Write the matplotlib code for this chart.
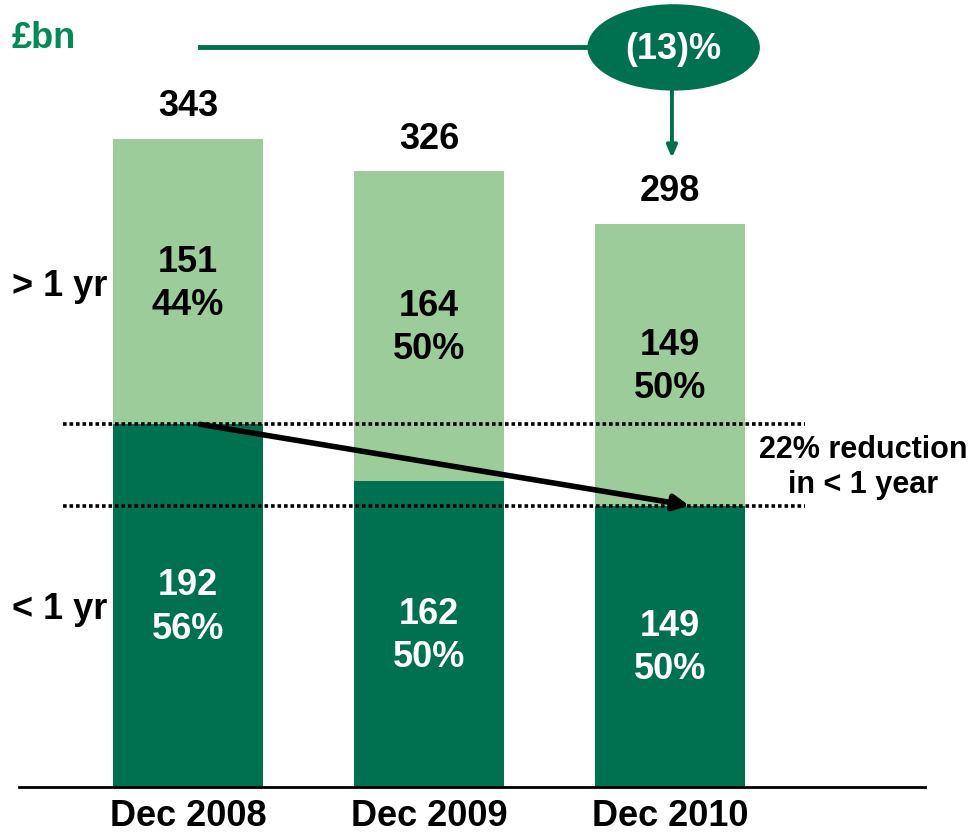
import matplotlib.pyplot as plt
from matplotlib.patches import Ellipse

# data (£bn)
periods = ['Dec 2008', 'Dec 2009', 'Dec 2010']
under_1yr = [192, 162, 149]
over_1yr = [151, 164, 149]
totals = [343, 326, 298]
pct_under = [56, 50, 50]
pct_over = [44, 50, 50]
change_label = '(13)%'
reduction_label = '22% reduction\nin < 1 year'

DARK = '#007150'
LIGHT = '#9ccc9a'
TXT_GREEN = '#008a55'

plt.rcParams['font.family'] = ['Liberation Sans', 'DejaVu Sans']
plt.rcParams['font.weight'] = 'bold'

fig = plt.figure(figsize=(9.72, 8.35), dpi=100)
ax = fig.add_axes([0, 0, 1, 1])
ax.set_xlim(-0.78, 3.253)
ax.set_ylim(-25.4, 416.6)
ax.axis('off')

x = list(range(len(periods)))
w = 0.625
ax.bar(x, under_1yr, width=w, color=DARK, zorder=2)
ax.bar(x, over_1yr, width=w, bottom=under_1yr, color=LIGHT, zorder=2)

fs = 26
for i in x:
    ax.text(i, under_1yr[i] / 2 - 1, f'{under_1yr[i]}\n{pct_under[i]}%', ha='center', va='center',
            color='white', fontsize=fs, fontweight='bold', linespacing=1.3, zorder=3)
    ax.text(i, under_1yr[i] + over_1yr[i] / 2 - 1, f'{over_1yr[i]}\n{pct_over[i]}%', ha='center',
            va='center', color='black', fontsize=fs, fontweight='bold', linespacing=1.3, zorder=3)
    ax.text(i, totals[i] + 17, str(totals[i]), ha='center', va='center', color='black',
            fontsize=fs, fontweight='bold')
    ax.text(i, -15.5, periods[i], ha='center', va='center', color='black',
            fontsize=fs, fontweight='bold')

# baseline
ax.plot([-0.70, 3.06], [0, 0], color='black', lw=2, zorder=4)

# row labels
ax.text(-0.73, 265, '> 1 yr', ha='left', va='center', fontsize=fs, fontweight='bold')
ax.text(-0.73, 94, '< 1 yr', ha='left', va='center', fontsize=fs, fontweight='bold')
ax.text(-0.73, 396, '£bn', ha='left', va='center', fontsize=fs, fontweight='bold', color=TXT_GREEN)

# dotted guide lines at the < 1 yr levels
for lvl in (under_1yr[0], under_1yr[-1]):
    ax.plot([-0.52, 2.56], [lvl, lvl], color='black', lw=2.6, linestyle=(0, (1, 0.8)), zorder=4)

ax.annotate('', xy=(2.08, under_1yr[-1]), xytext=(0.05, under_1yr[0]),
            arrowprops=dict(arrowstyle='-|>,head_length=0.9,head_width=0.45', color='black',
                            lw=4, shrinkA=0, shrinkB=0), zorder=5)
ax.text(2.8, 169, reduction_label, ha='center', va='center', fontsize=22,
        fontweight='bold', linespacing=1.2)

# overall change bubble
ax.plot([0.05, 1.66], [391.5, 391.5], color=DARK, lw=3.5, zorder=4)
ax.add_patch(Ellipse((2.015, 391.5), 0.71, 45, color=DARK, zorder=5))
ax.text(2.015, 390.5, change_label, ha='center', va='center', color='white',
        fontsize=fs, fontweight='bold', zorder=6)
ax.annotate('', xy=(2.008, 333), xytext=(2.008, 369.5),
            arrowprops=dict(arrowstyle='-|>,head_length=0.7,head_width=0.3', color=DARK,
                            lw=2.8, shrinkA=0, shrinkB=0), zorder=5)

fig.savefig('out.png', dpi=100)
